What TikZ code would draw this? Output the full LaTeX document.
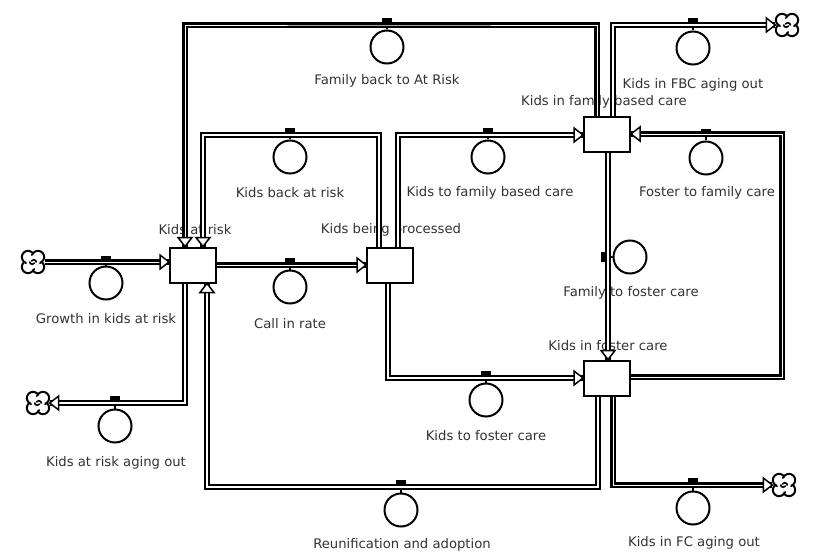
\documentclass[tikz,border=0pt]{standalone}
\usepackage{fontspec}
\setmainfont{DejaVu Sans}
\definecolor{txt}{HTML}{333333}
\tikzset{
  stock/.style={draw, fill=white, line width=2pt, minimum width=46pt, minimum height=35pt, inner sep=0pt},
  lbl/.style={text=txt, font=\fontsize{13.2}{15}\selectfont, inner sep=0pt},
  pipe/.style={draw, line width=1.8pt, double=white, double distance=2.2pt, line join=miter},
  pipeheavy/.style={draw, line width=2.6pt, double=white, double distance=0.8pt, line join=miter},
  valve/.style={draw, circle, line width=2pt, minimum size=33pt, inner sep=0pt},
  vbar/.style={fill=black, minimum width=10pt, minimum height=3pt, inner sep=0pt},
  vbarv/.style={fill=black, minimum width=3pt, minimum height=10pt, inner sep=0pt},
  vstem/.style={line width=1.5pt},
  cloudspot/.style={circle, minimum size=23pt, inner sep=0pt},
  cloudpic/.pic={
    \foreach \a in {45,135,225,315}{\draw[line width=2pt, fill=white] (\a:7) circle (6.2);}
    \fill[white] (0,0) circle (6.6);
    \draw[line width=1.6pt] (-3.5,-0.5) arc (180:30:2.8);
    \draw[line width=1.6pt] (3.5,0.5) arc (0:-150:2.8);
  },
  ahd/.pic={\draw[line width=1.5pt, fill=white, line join=miter] (0,0) -- (-9,-7) -- (-9,7) -- cycle;}
}
\begin{document}
\begin{tikzpicture}[x=1pt,y=-1pt]
\useasboundingbox[fill=white] (0,0) rectangle (813,556);
% stock labels (behind pipes)
\node[lbl] (lkar) at (195,230) {Kids at risk};
\node[lbl] (lkbp) at (391,230) {Kids being processed};
\node[lbl] (lfbc) at (604,102) {Kids in family based care};
\node[lbl] (lkfc) at (608,346) {Kids in foster care};
% flow labels
\node[lbl] (lgr) at (106,319) {Growth in kids at risk};
\node[lbl] (lcr) at (290,324) {Call in rate};
\node[lbl] (lbr) at (290,193) {Kids back at risk};
\node[lbl] (lfb) at (387,81) {Family back to At Risk};
\node[lbl] (ltf) at (490,193) {Kids to family based care};
\node[lbl] (lfa) at (693,85) {Kids in FBC aging out};
\node[lbl] (lff) at (707,193) {Foster to family care};
\node[lbl] (lfo) at (631,293) {Family to foster care};
\node[lbl] (lkf) at (486,436) {Kids to foster care};
\node[lbl] (lre) at (402,545) {Reunification and adoption};
\node[lbl] (lca) at (694,543) {Kids in FC aging out};
\node[lbl] (lka) at (116,463) {Kids at risk aging out};
% stocks
\node[stock] (kar) at (193,265) {};
\node[stock] (kbp) at (390,265) {};
\node[stock] (fbc) at (607,135) {};
\node[stock] (kfc) at (607,378) {};
% clouds
\node[cloudspot] (c1) at (33,262) {};
\node[cloudspot] (c2) at (38,403) {};
\node[cloudspot] (c3) at (787,25) {};
\node[cloudspot] (c4) at (784,485) {};
% corner coordinates
\coordinate (brT) at (290,135);
\coordinate (fbT) at (387,25);
\coordinate (ffR) at (782,250);
\coordinate (reB) at (402,487);
% valves
\node[valve] (vgr) at (106,283) {}; \node[vbar] (bgr) at (106,258) {};
\node[valve] (vcr) at (290,287) {}; \node[vbar] (bcr) at (290,260) {};
\node[valve] (vbr) at (290,157) {}; \node[vbar] (bbr) at (290,130) {};
\node[valve] (vfb) at (387,47) {};  \node[vbar] (bfb) at (387,20) {};
\node[valve] (vtf) at (488,157) {}; \node[vbar] (btf) at (488,130) {};
\node[valve] (vfa) at (693,48) {};  \node[vbar] (bfa) at (693,20) {};
\node[valve] (vff) at (706,158) {}; \node[vbar] (bff) at (706,131) {};
\node[valve] (vfo) at (630,257) {}; \node[vbarv] (bfo) at (603,257) {};
\node[valve] (vkf) at (486,400) {}; \node[vbar] (bkf) at (486,373) {};
\node[valve] (vre) at (401,510) {}; \node[vbar] (bre) at (401,482) {};
\node[valve] (vca) at (693,508) {}; \node[vbar] (bca) at (693,480) {};
\node[valve] (vka) at (115,426) {}; \node[vbar] (bka) at (115,398) {};
\foreach \v in {gr,cr,br,fb,tf,fa,ff,fo,kf,re,ca,ka}{\draw[vstem] (b\v) -- (v\v);}
% pipes
\draw[pipeheavy] (c1.east) -- (c1.east -| kar.west);
\draw[pipeheavy] (kar.east) -- (kbp.west);
\draw[pipe] ([xshift=-11pt]kbp.north) |- (brT) -| ([xshift=10pt]kar.north);
\draw[pipeheavy] ([xshift=-10pt]fbc.north) |- (fbT) -| ([xshift=-8pt]kar.north);
\draw[pipe] ([xshift=8pt]kbp.north) |- (fbc.west);
\draw[pipe] ([xshift=6pt]fbc.north) |- (c3.west);
\draw[pipeheavy] ([yshift=1pt]kfc.east) -| (ffR) |- ([yshift=1pt]fbc.east);
\draw[pipe] ([xshift=1pt]fbc.south) -- ([xshift=1pt]kfc.north);
\draw[pipe] ([xshift=-2pt]kbp.south) |- (kfc.west);
\draw[pipe] ([xshift=-9pt]kfc.south) |- (reB) -| ([xshift=14pt]kar.south);
\draw[pipeheavy] ([xshift=6pt]kfc.south) |- (c4.west);
\draw[pipe] ([xshift=-8pt]kar.south) |- (c2.east);
% bars on top of pipes
\foreach \v in {gr,cr,br,fb,tf,fa,ff,kf,re,ca,ka,fo}{\fill (b\v.south west) rectangle (b\v.north east);}
% clouds
\pic at (c1) {cloudpic};
\pic at (c2) {cloudpic};
\pic at (c3) {cloudpic};
\pic at (c4) {cloudpic};
% arrowheads
\pic at (c1.east -| kar.west) {ahd};
\pic at (kbp.west) {ahd};
\pic at (fbc.west) {ahd};
\pic at (kfc.west) {ahd};
\pic at (c3.west) {ahd};
\pic at (c4.west) {ahd};
\pic[rotate=180] at (c2.east) {ahd};
\pic[rotate=180] at ([yshift=1pt]fbc.east) {ahd};
\pic[rotate=-90] at ([xshift=-8pt]kar.north) {ahd};
\pic[rotate=-90] at ([xshift=10pt]kar.north) {ahd};
\pic[rotate=-90] at ([xshift=1pt]kfc.north) {ahd};
\pic[rotate=90] at ([xshift=14pt]kar.south) {ahd};
\end{tikzpicture}
\end{document}
